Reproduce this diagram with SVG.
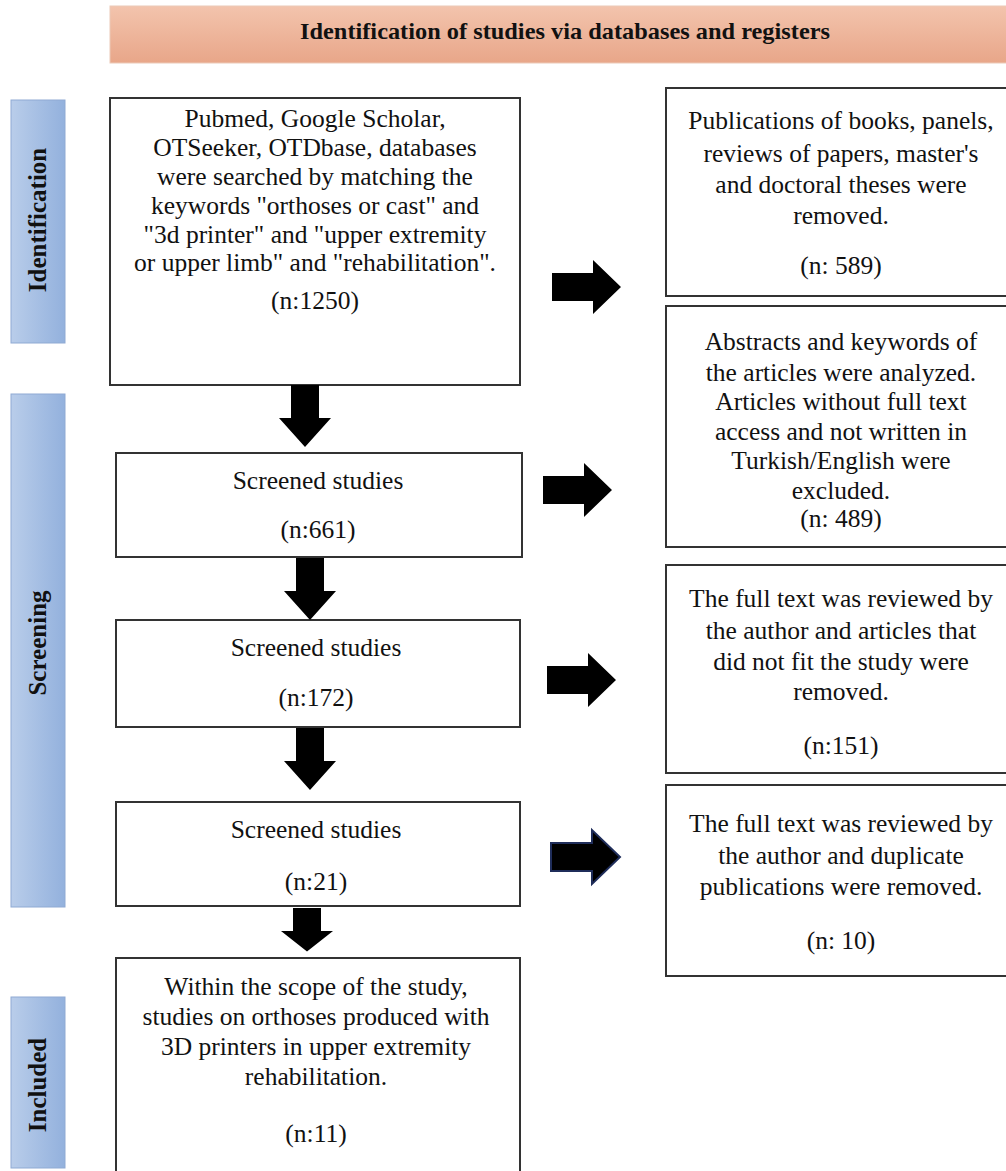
<svg xmlns="http://www.w3.org/2000/svg" width="1006" height="1171" viewBox="0 0 1006 1171">
<defs>
<linearGradient id="hdr" x1="0" y1="0" x2="0" y2="1">
<stop offset="0" stop-color="#f3c4ad"/>
<stop offset="1" stop-color="#e8a689"/>
</linearGradient>
<linearGradient id="side" x1="0" y1="0" x2="1" y2="0">
<stop offset="0" stop-color="#b9cdea"/>
<stop offset="1" stop-color="#93b1dd"/>
</linearGradient>
<path id="down" d="M-14,0 H14 V33 H26 L0,62 L-26,33 H-14 Z"/>
<path id="right" d="M0,-14 H41 V-27 L69,0 L41,27 V14 H0 Z"/>
</defs>
<style>
.box{fill:#fff;stroke:#333;stroke-width:2}
.bar{fill:url(#side);stroke:#8faad3;stroke-width:1}
.t{font-family:"Liberation Serif","Times New Roman",serif;font-size:25.5px;fill:#111;text-anchor:middle}
.lab{font-family:"Liberation Serif","Times New Roman",serif;font-size:25px;font-weight:bold;fill:#111;text-anchor:middle}
.arr{fill:#000}
</style>
<rect width="1006" height="1171" fill="#fff"/>

<g id="header">
<rect x="110" y="6" width="900" height="57" fill="url(#hdr)" stroke="#eccab8" stroke-width="1"/>
<text class="lab" x="565" y="39" style="font-size:23px" textLength="530" lengthAdjust="spacingAndGlyphs">Identification of studies via databases and registers</text>
</g>

<g id="stage-identification">
<rect class="bar" x="11" y="100" width="54" height="243"/>
<text class="lab" transform="translate(46,220) rotate(-90)">Identification</text>
</g>
<g id="stage-screening">
<rect class="bar" x="11" y="394" width="54" height="513"/>
<text class="lab" transform="translate(46,643) rotate(-90)">Screening</text>
</g>
<g id="stage-included">
<rect class="bar" x="11" y="997" width="54" height="171"/>
<text class="lab" transform="translate(46,1085) rotate(-90)">Included</text>
</g>

<g id="box-search">
<rect class="box" x="110" y="98" width="410" height="287"/>
<text class="t" x="315" y="127">Pubmed, Google Scholar,</text>
<text class="t" x="315" y="156">OTSeeker, OTDbase, databases</text>
<text class="t" x="315" y="185">were searched by matching the</text>
<text class="t" x="315" y="214">keywords "orthoses or cast" and</text>
<text class="t" x="315" y="243">"3d printer" and "upper extremity</text>
<text class="t" x="315" y="271">or upper limb" and "rehabilitation".</text>
<text class="t" x="315" y="309">(n:1250)</text>
</g>

<g id="box-screened-661">
<rect class="box" x="116" y="453" width="406" height="104"/>
<text class="t" x="318" y="489">Screened studies</text>
<text class="t" x="318" y="538">(n:661)</text>
</g>

<g id="box-screened-172">
<rect class="box" x="116" y="620" width="404" height="107"/>
<text class="t" x="316" y="656">Screened studies</text>
<text class="t" x="316" y="706">(n:172)</text>
</g>

<g id="box-screened-21">
<rect class="box" x="116" y="802" width="404" height="104"/>
<text class="t" x="316" y="838">Screened studies</text>
<text class="t" x="316" y="890">(n:21)</text>
</g>

<g id="box-included">
<rect class="box" x="116" y="958" width="404" height="220"/>
<text class="t" x="316" y="995">Within the scope of the study,</text>
<text class="t" x="316" y="1025">studies on orthoses produced with</text>
<text class="t" x="316" y="1055">3D printers in upper extremity</text>
<text class="t" x="316" y="1085">rehabilitation.</text>
<text class="t" x="316" y="1142">(n:11)</text>
</g>

<g id="box-excl-589">
<rect class="box" x="666" y="88" width="344" height="208"/>
<text class="t" x="841" y="129">Publications of books, panels,</text>
<text class="t" x="841" y="162">reviews of papers, master's</text>
<text class="t" x="841" y="193">and doctoral theses were</text>
<text class="t" x="841" y="224">removed.</text>
<text class="t" x="841" y="274">(n: 589)</text>
</g>

<g id="box-excl-489">
<rect class="box" x="666" y="306" width="344" height="241"/>
<text class="t" x="841" y="350">Abstracts and keywords of</text>
<text class="t" x="841" y="381">the articles were analyzed.</text>
<text class="t" x="841" y="410">Articles without full text</text>
<text class="t" x="841" y="440">access and not written in</text>
<text class="t" x="841" y="469">Turkish/English were</text>
<text class="t" x="841" y="499">excluded.</text>
<text class="t" x="841" y="527">(n: 489)</text>
</g>

<g id="box-excl-151">
<rect class="box" x="666" y="565" width="344" height="208"/>
<text class="t" x="841" y="607">The full text was reviewed by</text>
<text class="t" x="841" y="639">the author and articles that</text>
<text class="t" x="841" y="670">did not fit the study were</text>
<text class="t" x="841" y="700">removed.</text>
<text class="t" x="841" y="754">(n:151)</text>
</g>

<g id="box-excl-10">
<rect class="box" x="666" y="785" width="344" height="191"/>
<text class="t" x="841" y="832">The full text was reviewed by</text>
<text class="t" x="841" y="864">the author and duplicate</text>
<text class="t" x="841" y="895">publications were removed.</text>
<text class="t" x="841" y="949">(n: 10)</text>
</g>

<g id="connectors">
<use href="#down" class="arr" x="305" y="385"/>
<use href="#down" class="arr" x="310" y="558"/>
<use href="#down" class="arr" x="310" y="728"/>
<use href="#down" class="arr" x="307" y="908" transform="translate(307,908) scale(1,0.7) translate(-307,-908)"/>
<use href="#right" class="arr" x="552" y="287"/>
<use href="#right" class="arr" x="543" y="490"/>
<use href="#right" class="arr" x="547" y="680"/>
<use href="#right" class="arr" x="551" y="857" stroke="#1f2d5a" stroke-width="2"/>
</g>
</svg>
